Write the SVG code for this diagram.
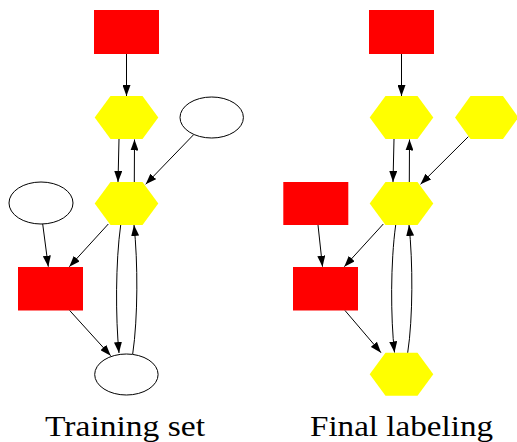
<svg xmlns="http://www.w3.org/2000/svg" width="517" height="442" viewBox="0 0 517 442">
<style>
.red{fill:#ff0000;stroke:none}
.yel{fill:#ffff00;stroke:none}
.ell{fill:#ffffff;stroke:#000000;stroke-width:1}
.edge{fill:none;stroke:#000000;stroke-width:1;marker-end:url(#ah)}
.cap{font-size:30px;fill:#000000}
</style>
<defs>
<marker id="ah" markerUnits="userSpaceOnUse" markerWidth="11" markerHeight="8" refX="11" refY="4" orient="auto">
<path d="M0,0 L11,4 L0,8 z" fill="#000000"/>
</marker>
</defs>
<rect width="517" height="442" fill="#ffffff"/>

<!-- Left panel: Training set -->
<g id="L_top"><rect class="red" x="94" y="10" width="65" height="44"/></g>
<g id="L_h1"><polygon class="yel" points="94.7,117.5 110.5,96 142.5,96 158.3,117.5 142.5,139 110.5,139"/></g>
<g id="L_h2"><polygon class="yel" points="94.7,203.5 110.5,182 142.5,182 158.3,203.5 142.5,225 110.5,225"/></g>
<g id="L_etr"><ellipse class="ell" cx="211.7" cy="117.5" rx="31.7" ry="20.5"/></g>
<g id="L_el"><ellipse class="ell" cx="41" cy="203" rx="32" ry="21"/></g>
<g id="L_red"><rect class="red" x="18" y="267" width="65" height="43.5"/></g>
<g id="L_eb"><ellipse class="ell" cx="126.4" cy="374.5" rx="31.7" ry="20.5"/></g>
<g id="L_edges">
<path class="edge" d="M126.5,54 L126.5,96"/>
<path class="edge" d="M119,139 L118,182"/>
<path class="edge" d="M134.3,182 L134.5,139.5"/>
<path class="edge" d="M193.3,135 L145.7,184.3"/>
<path class="edge" d="M42.7,224 L48.3,266.7"/>
<path class="edge" d="M108.3,224 L69.3,266.7"/>
<path class="edge" d="M69.7,310.5 L110.7,355.7"/>
<path class="edge" d="M120.7,225 C115.5,262 115.5,318 119,353"/>
<path class="edge" d="M132.7,354 C138,318 138,262 134,225"/>
</g>
<text class="cap" font-family="'Liberation Serif', 'Times New Roman', serif" x="45" y="436" textLength="160" lengthAdjust="spacingAndGlyphs">Training set</text>

<!-- Right panel: Final labeling -->
<g id="R_top"><rect class="red" x="369" y="10" width="65" height="44"/></g>
<g id="R_h1"><polygon class="yel" points="369.7,117.5 385.5,96 417.5,96 433.3,117.5 417.5,139 385.5,139"/></g>
<g id="R_h2"><polygon class="yel" points="369.7,203.5 385.5,182 417.5,182 433.3,203.5 417.5,225 385.5,225"/></g>
<g id="R_htr"><polygon class="yel" points="455,117.5 470.5,96 503,96 518.5,117.5 503,139 470.5,139"/></g>
<g id="R_rl"><rect class="red" x="283.3" y="182" width="65" height="43"/></g>
<g id="R_red"><rect class="red" x="293" y="267" width="65" height="43.5"/></g>
<g id="R_hb"><polygon class="yel" points="369.7,374.2 385.5,352.7 417.5,352.7 433.3,374.2 417.5,395.7 385.5,395.7"/></g>
<g id="R_edges">
<path class="edge" d="M401.5,54 L401.5,96"/>
<path class="edge" d="M394,139 L393,182"/>
<path class="edge" d="M409.3,182 L409.5,139.5"/>
<path class="edge" d="M468.3,136.7 L420.5,184.3"/>
<path class="edge" d="M318,225 L322.5,266.7"/>
<path class="edge" d="M383.3,224 L344.3,266.7"/>
<path class="edge" d="M345,310.5 L381,352.7"/>
<path class="edge" d="M395.7,225 C390.5,262 390.5,318 394.5,352.5"/>
<path class="edge" d="M407.7,352.7 C413,318 413,262 409,225"/>
</g>
<text class="cap" font-family="'Liberation Serif', 'Times New Roman', serif" x="310" y="436" textLength="183" lengthAdjust="spacingAndGlyphs">Final labeling</text>
</svg>
